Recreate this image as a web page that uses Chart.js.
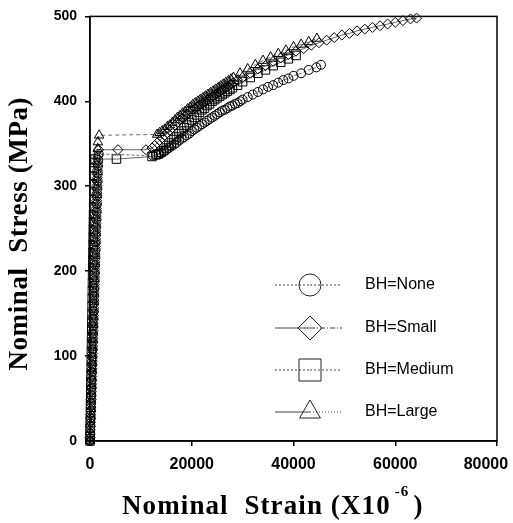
<!DOCTYPE html>
<html>
<head>
<meta charset="utf-8">
<script src="https://cdn.jsdelivr.net/npm/chart.js@4/dist/chart.umd.min.js"></script>
<style>
  html, body { margin: 0; padding: 0; background: #fff; }
  #wrap { width: 513px; height: 523px; }
</style>
</head>
<body>
<div id="wrap"><canvas id="chart" width="513" height="523"></canvas></div>
<script>
// Nominal strain (x10^-6) and nominal stress (MPa)
const seriesNames = ['BH=None', 'BH=Small', 'BH=Medium', 'BH=Large'];
const pointStyles = ['circle', 'rectRot', 'rect', 'triangle'];

const noneStrain = [0, 44, 88, 132, 176, 220, 265, 309, 353, 397, 441, 485, 529, 573, 617, 662, 706, 750, 794, 838,
  882, 926, 970, 1014, 1058, 1103, 1147, 1191, 1235, 1279, 1323, 1367, 1411, 1455, 1499, 1544, 1588, 1622, 1700,
  12400, 13000, 13500, 14000, 14500, 15000, 15500, 16000, 16500, 17000, 17500, 18000, 18500, 19000, 19500, 20000,
  20500, 21000, 21500, 22000, 22500, 23000, 23500, 24000, 24500, 25000, 25500, 26000, 26500, 27000, 27500, 28000,
  28500, 29000, 29500, 30000, 31000, 32000, 33000, 34000, 35000, 36000, 37000, 38000, 39000, 40000, 41500, 43000,
  44500, 45400];
const noneStress = [0, 9, 18, 27, 36, 45, 54, 63, 72, 81, 90, 99, 108, 117, 126, 135, 144, 153, 162, 171,
  180, 189, 198, 207, 216, 225, 234, 243, 252, 261, 270, 279, 288, 297, 306, 315, 324, 331, 338,
  336, 337, 338, 339, 341, 343, 345, 347, 349, 351, 354, 356, 358, 360, 362, 365,
  367, 369, 371, 373, 375, 377, 379, 381, 383, 385, 387, 389, 390, 392, 394, 395,
  397, 398, 400, 402, 405, 408, 411, 414, 417, 419, 422, 425, 427, 430, 433, 437,
  440, 443];

const smallStrain = [0, 18, 60, 101, 143, 184, 225, 267, 308, 350, 391, 432, 474, 515, 557, 598, 639, 681, 722, 764,
  805, 846, 888, 929, 971, 1012, 1053, 1095, 1136, 1178, 1219, 1260, 1302, 1343, 1385, 1426, 1467, 1509, 1546, 1700,
  5500, 11000, 12200, 12700, 13200, 13700, 14200, 14700, 15200, 15700, 16200, 16700, 17200, 17700, 18200, 18700,
  19200, 19700, 20200, 20700, 21200, 21700, 22200, 22700, 23200, 23700, 24200, 24700, 25200, 25700, 26200, 26700,
  27200, 27700, 28200, 29000, 30000, 31500, 33000, 34500, 36000, 37500, 39000, 40500, 42000, 43500, 45000, 46500,
  48000, 49500, 51000, 52500, 54000, 55500, 57000, 58500, 60000, 61500, 63000, 64200];
const smallStress = [0, 4, 13, 22, 31, 40, 49, 58, 67, 76, 85, 94, 103, 112, 121, 130, 139, 148, 157, 166,
  175, 184, 193, 202, 211, 220, 229, 238, 247, 256, 265, 274, 283, 292, 301, 310, 319, 328, 336, 343,
  343, 343, 345, 348, 351, 354, 357, 360, 363, 366, 369, 372, 375, 378, 380, 383,
  385, 388, 390, 392, 394, 396, 398, 400, 402, 404, 406, 408, 410, 412, 414, 416,
  418, 420, 422, 425, 428, 433, 438, 442, 447, 451, 455, 459, 462, 466, 469, 472,
  475, 478, 480, 483, 485, 487, 489, 491, 493, 495, 497, 498];

const mediumStrain = [0, 16, 39, 62, 86, 109, 133, 156, 179, 203, 226, 250, 273, 296, 320, 343, 367, 390, 413, 437,
  460, 484, 507, 530, 554, 577, 601, 624, 647, 671, 694, 718, 741, 764, 788, 811, 835, 853, 1000,
  5200, 12200, 13000, 13500, 14000, 14500, 15000, 15500, 16000, 16500, 17000, 17500, 18000, 18500, 19000, 19500,
  20000, 20500, 21000, 21500, 22000, 22500, 23000, 23500, 24000, 24500, 25000, 25500, 26000, 26500, 27000, 27500,
  28000, 29000, 30000, 31500, 33000, 34500, 36000, 37500, 39000, 40500];
const mediumStress = [0, 6, 15, 24, 33, 42, 51, 60, 69, 78, 87, 96, 105, 114, 123, 132, 141, 150, 159, 168,
  177, 186, 195, 204, 213, 222, 231, 240, 249, 258, 267, 276, 285, 294, 303, 312, 321, 328, 332,
  332, 335, 337, 338, 340, 342, 345, 348, 351, 355, 358, 362, 365, 369, 372, 375,
  378, 381, 384, 387, 390, 392, 395, 397, 400, 402, 404, 406, 408, 410, 412, 414,
  416, 419, 423, 428, 433, 437, 442, 446, 450, 454];

const largeStrain = [0, 9, 48, 88, 128, 167, 207, 246, 286, 326, 365, 405, 444, 484, 524, 563, 603, 642, 682, 722,
  761, 801, 840, 880, 920, 959, 999, 1038, 1078, 1118, 1157, 1197, 1236, 1276, 1316, 1355, 1395, 1434, 1474, 1514,
  1549, 1800, 13200, 13700, 14200, 14700, 15200, 15700, 16200, 16700, 17200, 17700, 18200, 18700, 19200, 19700,
  20200, 20700, 21200, 21700, 22200, 22700, 23200, 23700, 24200, 24700, 25200, 25700, 26200, 26700, 27200, 27700,
  28200, 29500, 31000, 32500, 34000, 35500, 37000, 38500, 40000, 41500, 43000, 44600];
const largeStress = [0, 2, 11, 20, 29, 38, 47, 56, 65, 74, 83, 92, 101, 110, 119, 128, 137, 146, 155, 164,
  173, 182, 191, 200, 209, 218, 227, 236, 245, 254, 263, 272, 281, 290, 299, 308, 317, 326, 335, 344,
  352, 360, 361, 363, 365, 367, 370, 372, 375, 378, 381, 383, 386, 388, 391, 393,
  396, 398, 400, 402, 404, 406, 408, 410, 412, 414, 416, 418, 420, 422, 424, 426,
  428, 433, 438, 443, 448, 452, 456, 460, 464, 467, 470, 474];

const xTicks = [0, 20000, 40000, 60000, 80000];
const yTicks = [0, 100, 200, 300, 400, 500];

const strains = [noneStrain, smallStrain, mediumStrain, largeStrain];
const stresses = [noneStress, smallStress, mediumStress, largeStress];
const markerSizes = [4.5, 5, 6, 5.5];
const lineDashes = [[3, 2], [], [], [4, 3]];

function toPoints(xs, ys) {
  return xs.map((x, i) => ({ x: x, y: ys[i] }));
}

function drawMarker(ctx, style, x, y, r) {
  ctx.beginPath();
  if (style === 'circle') {
    ctx.arc(x, y, r, 0, Math.PI * 2);
  } else if (style === 'rectRot') {
    ctx.moveTo(x, y - r);
    ctx.lineTo(x + r, y);
    ctx.lineTo(x, y + r);
    ctx.lineTo(x - r, y);
    ctx.closePath();
  } else if (style === 'rect') {
    ctx.rect(x - r, y - r, 2 * r, 2 * r);
  } else {
    ctx.moveTo(x, y - r);
    ctx.lineTo(x + r * 0.87, y + r * 0.5);
    ctx.lineTo(x - r * 0.87, y + r * 0.5);
    ctx.closePath();
  }
  ctx.stroke();
}

// box around the plot area
const framePlugin = {
  id: 'frame',
  afterDraw(chart) {
    const { ctx, chartArea: a } = chart;
    ctx.save();
    ctx.strokeStyle = '#000';
    ctx.lineWidth = 1.5;
    ctx.strokeRect(a.left, a.top, a.right - a.left, a.bottom - a.top);
    ctx.restore();
  }
};

// legend inside the plot, lower right
const legendPlugin = {
  id: 'insideLegend',
  afterDraw(chart) {
    const ctx = chart.ctx;
    const rows = [285, 328, 370, 412];
    const legendSizes = [11, 12, 11, 12];
    const leftDash = [[2, 2], [], [2, 2], []];
    const rightDash = [[2, 2], [5, 2, 1, 2], [2, 2], [1, 2]];
    ctx.save();
    ctx.strokeStyle = '#444';
    ctx.fillStyle = '#000';
    ctx.font = '16px "Liberation Sans", sans-serif';
    ctx.textBaseline = 'middle';
    seriesNames.forEach((name, i) => {
      const y = rows[i];
      ctx.lineWidth = 1;
      ctx.setLineDash(leftDash[i]);
      ctx.beginPath();
      ctx.moveTo(275, y);
      ctx.lineTo(310, y);
      ctx.stroke();
      ctx.setLineDash(rightDash[i]);
      ctx.beginPath();
      ctx.moveTo(310, y);
      ctx.lineTo(342, y);
      ctx.stroke();
      ctx.setLineDash([]);
      ctx.strokeStyle = '#222';
      drawMarker(ctx, pointStyles[i], 310, y, legendSizes[i]);
      ctx.strokeStyle = '#444';
      ctx.fillText(name, 365, y);
    });
    ctx.restore();
  }
};

// axis titles in bold serif, with the raised -6 on the strain title
const titlePlugin = {
  id: 'axisTitles',
  afterDraw(chart) {
    const { ctx, chartArea: a } = chart;
    ctx.save();
    ctx.fillStyle = '#000';
    ctx.letterSpacing = '1.1px';
    ctx.font = 'bold 27px "Liberation Serif", serif';
    ctx.textBaseline = 'alphabetic';
    let x = a.left + 32;
    const y = 514;
    const main = 'Nominal  Strain (X10';
    ctx.fillText(main, x, y);
    x += ctx.measureText(main).width + 4;
    ctx.font = 'bold 15px "Liberation Serif", serif';
    ctx.fillText('-6', x, y - 18);
    x += ctx.measureText('-6').width + 4;
    ctx.font = 'bold 27px "Liberation Serif", serif';
    ctx.fillText(')', x, y);

    ctx.letterSpacing = '0.6px';
    ctx.translate(20, (a.top + a.bottom) / 2 + 5);
    ctx.rotate(-Math.PI / 2);
    ctx.textAlign = 'center';
    ctx.textBaseline = 'middle';
    ctx.fillText('Nominal  Stress (MPa)', 0, 0);
    ctx.restore();
  }
};

const datasets = seriesNames.map((name, i) => ({
  label: name,
  data: toPoints(strains[i], stresses[i]),
  showLine: true,
  borderColor: '#666',
  borderWidth: 1,
  borderDash: lineDashes[i],
  pointStyle: pointStyles[i],
  pointRadius: markerSizes[i],
  pointBorderColor: '#000',
  pointBorderWidth: 1,
  pointBackgroundColor: 'rgba(0,0,0,0)',
  clip: false
}));

new Chart(document.getElementById('chart'), {
  type: 'scatter',
  data: { datasets },
  options: {
    responsive: false,
    animation: false,
    devicePixelRatio: 1,
    layout: { padding: { top: 13, right: 16, left: 0, bottom: 0 } },
    plugins: { legend: { display: false }, tooltip: { enabled: false } },
    scales: {
      x: {
        type: 'linear',
        min: 0,
        max: 80000,
        afterBuildTicks: (scale) => { scale.ticks = xTicks.map(v => ({ value: v })); },
        afterFit: (scale) => { scale.height = 82; scale.paddingRight = 16; },
        ticks: {
          // trailing spaces pull the last label inside the page like the original
          callback: (v) => v === 80000 ? '80000     ' : String(v),
          color: '#000',
          font: { family: '"Liberation Sans", sans-serif', size: 16, weight: 'bold' },
          padding: 9,
          maxRotation: 0,
          autoSkip: false
        },
        grid: { drawOnChartArea: false, tickLength: 5, color: '#000', lineWidth: 1.5 },
        border: { color: '#000', width: 1.5 }
      },
      y: {
        min: 0,
        max: 500,
        afterBuildTicks: (scale) => { scale.ticks = yTicks.map(v => ({ value: v })); },
        afterFit: (scale) => { scale.width = 90; },
        ticks: {
          color: '#000',
          font: { family: '"Liberation Sans Narrow", "Liberation Sans", sans-serif', size: 14, weight: 'bold' },
          padding: 8
        },
        grid: { drawOnChartArea: false, tickLength: 5, color: '#000', lineWidth: 1.5 },
        border: { color: '#000', width: 1.5 }
      }
    }
  },
  plugins: [framePlugin, legendPlugin, titlePlugin]
});
</script>
</body>
</html>
